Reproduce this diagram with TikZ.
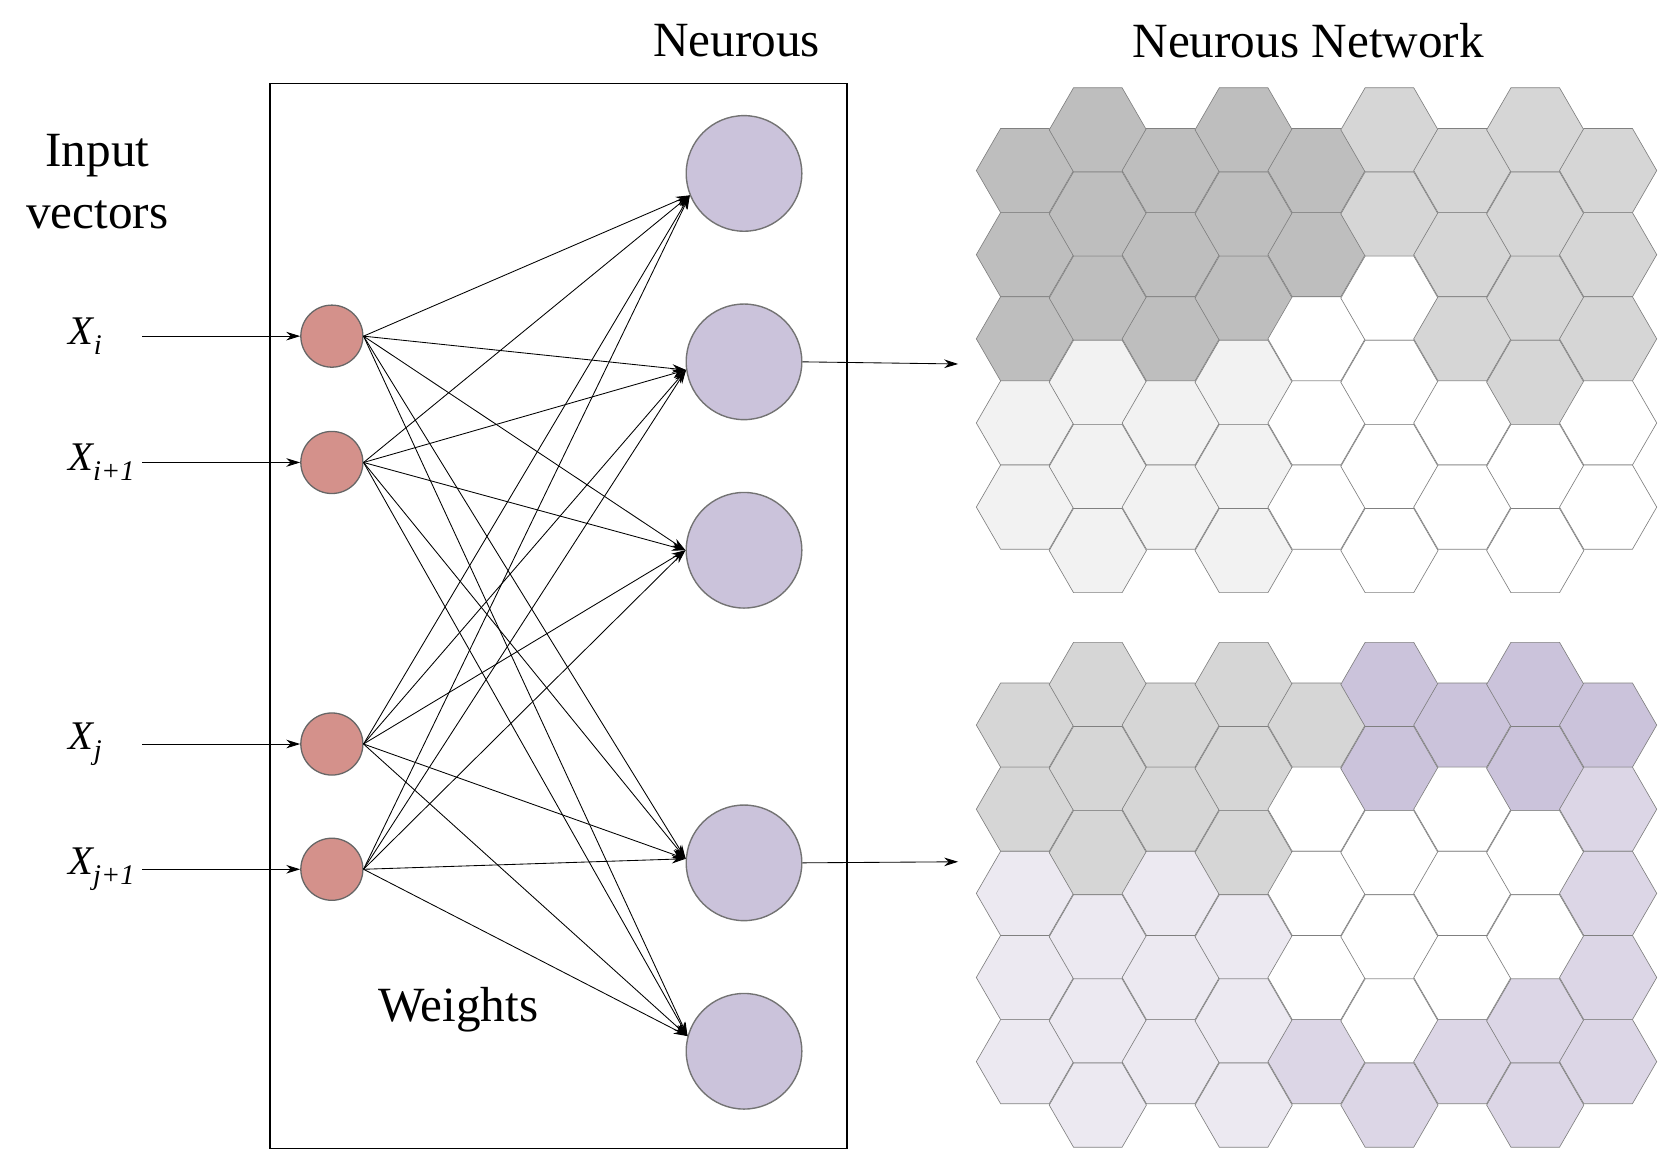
\documentclass[tikz,border=0pt]{standalone}
\usepackage{fontspec}
\setmainfont{Liberation Serif}
\usetikzlibrary{arrows.meta}
\definecolor{D}{HTML}{BEBEBE}
\definecolor{M}{HTML}{D6D6D6}
\definecolor{L}{HTML}{F2F2F2}
\definecolor{W}{HTML}{FFFFFF}
\definecolor{P}{HTML}{CBC3DB}
\definecolor{Q}{HTML}{DCD6E6}
\definecolor{E}{HTML}{ECE9F1}
\definecolor{inp}{HTML}{D4918B}
\definecolor{outp}{HTML}{CBC3DB}
\begin{document}
\begin{tikzpicture}[x=1pt,y=-1pt,
  inn/.style={circle,draw=black!60,line width=1.2pt,fill=inp,minimum size=58pt,inner sep=0pt},
  outn/.style={circle,draw=black!55,line width=1.3pt,fill=outp,minimum size=108pt,inner sep=0pt},
  arr/.style={-{Stealth[length=13pt,width=8pt]},line width=0.8pt},
  hex/.style={draw=black!50,line width=0.6pt},
  big/.style={font=\fontsize{46}{58}\selectfont},
  lab/.style={font=\fontsize{38}{44}\selectfont\itshape}]
\useasboundingbox (0,0) rectangle (1560,1096);
\node[big] (t1) at (688,38) {Neurous};
\node[big] (t2) at (1222,38) {Neurous Network};
\node[big,align=center] (iv) at (91,170) {Input\\vectors};
\node[big] (wt) at (428,943) {Weights};
\draw[line width=1.5pt] (252,78) rectangle (791,1073);
% inputs
\foreach \n/\y/\t/\lx in {a/314/{X\textsubscript{i}}/80, b/432/{X\textsubscript{i+1}}/95, c/695/{X\textsubscript{j}}/80, d/812/{X\textsubscript{j+1}}/95}{
  \node[inn] (\n) at (310,\y) {};
  \node[lab] (l\n) at (\lx,\y) {\t};
  \coordinate (s\n) at (133,\y);
  \draw[arr] (s\n) -- (\n);
}
\foreach \n/\y in {1/162,2/338,3/514,4/806,5/982}{
  \node[outn] (o\n) at (695,\y) {};
}
\foreach \o/\ang in {1/202,2/188,3/180,4/176,5/165}{
  \foreach \i in {a,b,c,d}{
    \draw[arr] (\i.east) -- (o\o.\ang);
  }
}
\coordinate (e1) at (895,340);
\coordinate (e2) at (895,805);
\draw[arr] (o2.east) -- (e1);
\draw[arr] (o4.east) -- (e2);
% hex grids
\def\R{45.4}
\newcommand{\hexgrid}[3]{%
  \foreach \c/\cols in {#3}{
    \pgfmathsetmacro{\cx}{957.4+68.1*\c}
    \pgfmathsetmacro{\ty}{isodd(\c) ? #2 : #1}
    \foreach \col [count=\r from 0] in \cols {
      \pgfmathsetmacro{\cy}{\ty+39.3+78.6*\r}
      \draw[hex,fill=\col] (\cx,\cy) +(\R,0) -- +(\R/2,39.3) -- +(-\R/2,39.3) -- +(-\R,0) -- +(-\R/2,-39.3) -- +(\R/2,-39.3) -- cycle;
    }
  }
}
\hexgrid{120}{82}{0/{D,D,D,L,L},1/{D,D,D,L,L,L},2/{D,D,D,L,L},3/{D,D,D,L,L,L},4/{D,D,W,W,W},5/{M,M,W,W,W,W},6/{M,M,M,W,W},7/{M,M,M,M,W,W},8/{M,M,M,W,W}}
\hexgrid{638}{600}{0/{M,M,E,E,E},1/{M,M,M,E,E,E},2/{M,M,E,E,E},3/{M,M,M,E,E,E},4/{M,W,W,W,Q},5/{P,P,W,W,W,Q},6/{P,W,W,W,Q},7/{P,P,W,W,Q,Q},8/{P,Q,Q,Q,Q}}
\end{tikzpicture}
\end{document}
